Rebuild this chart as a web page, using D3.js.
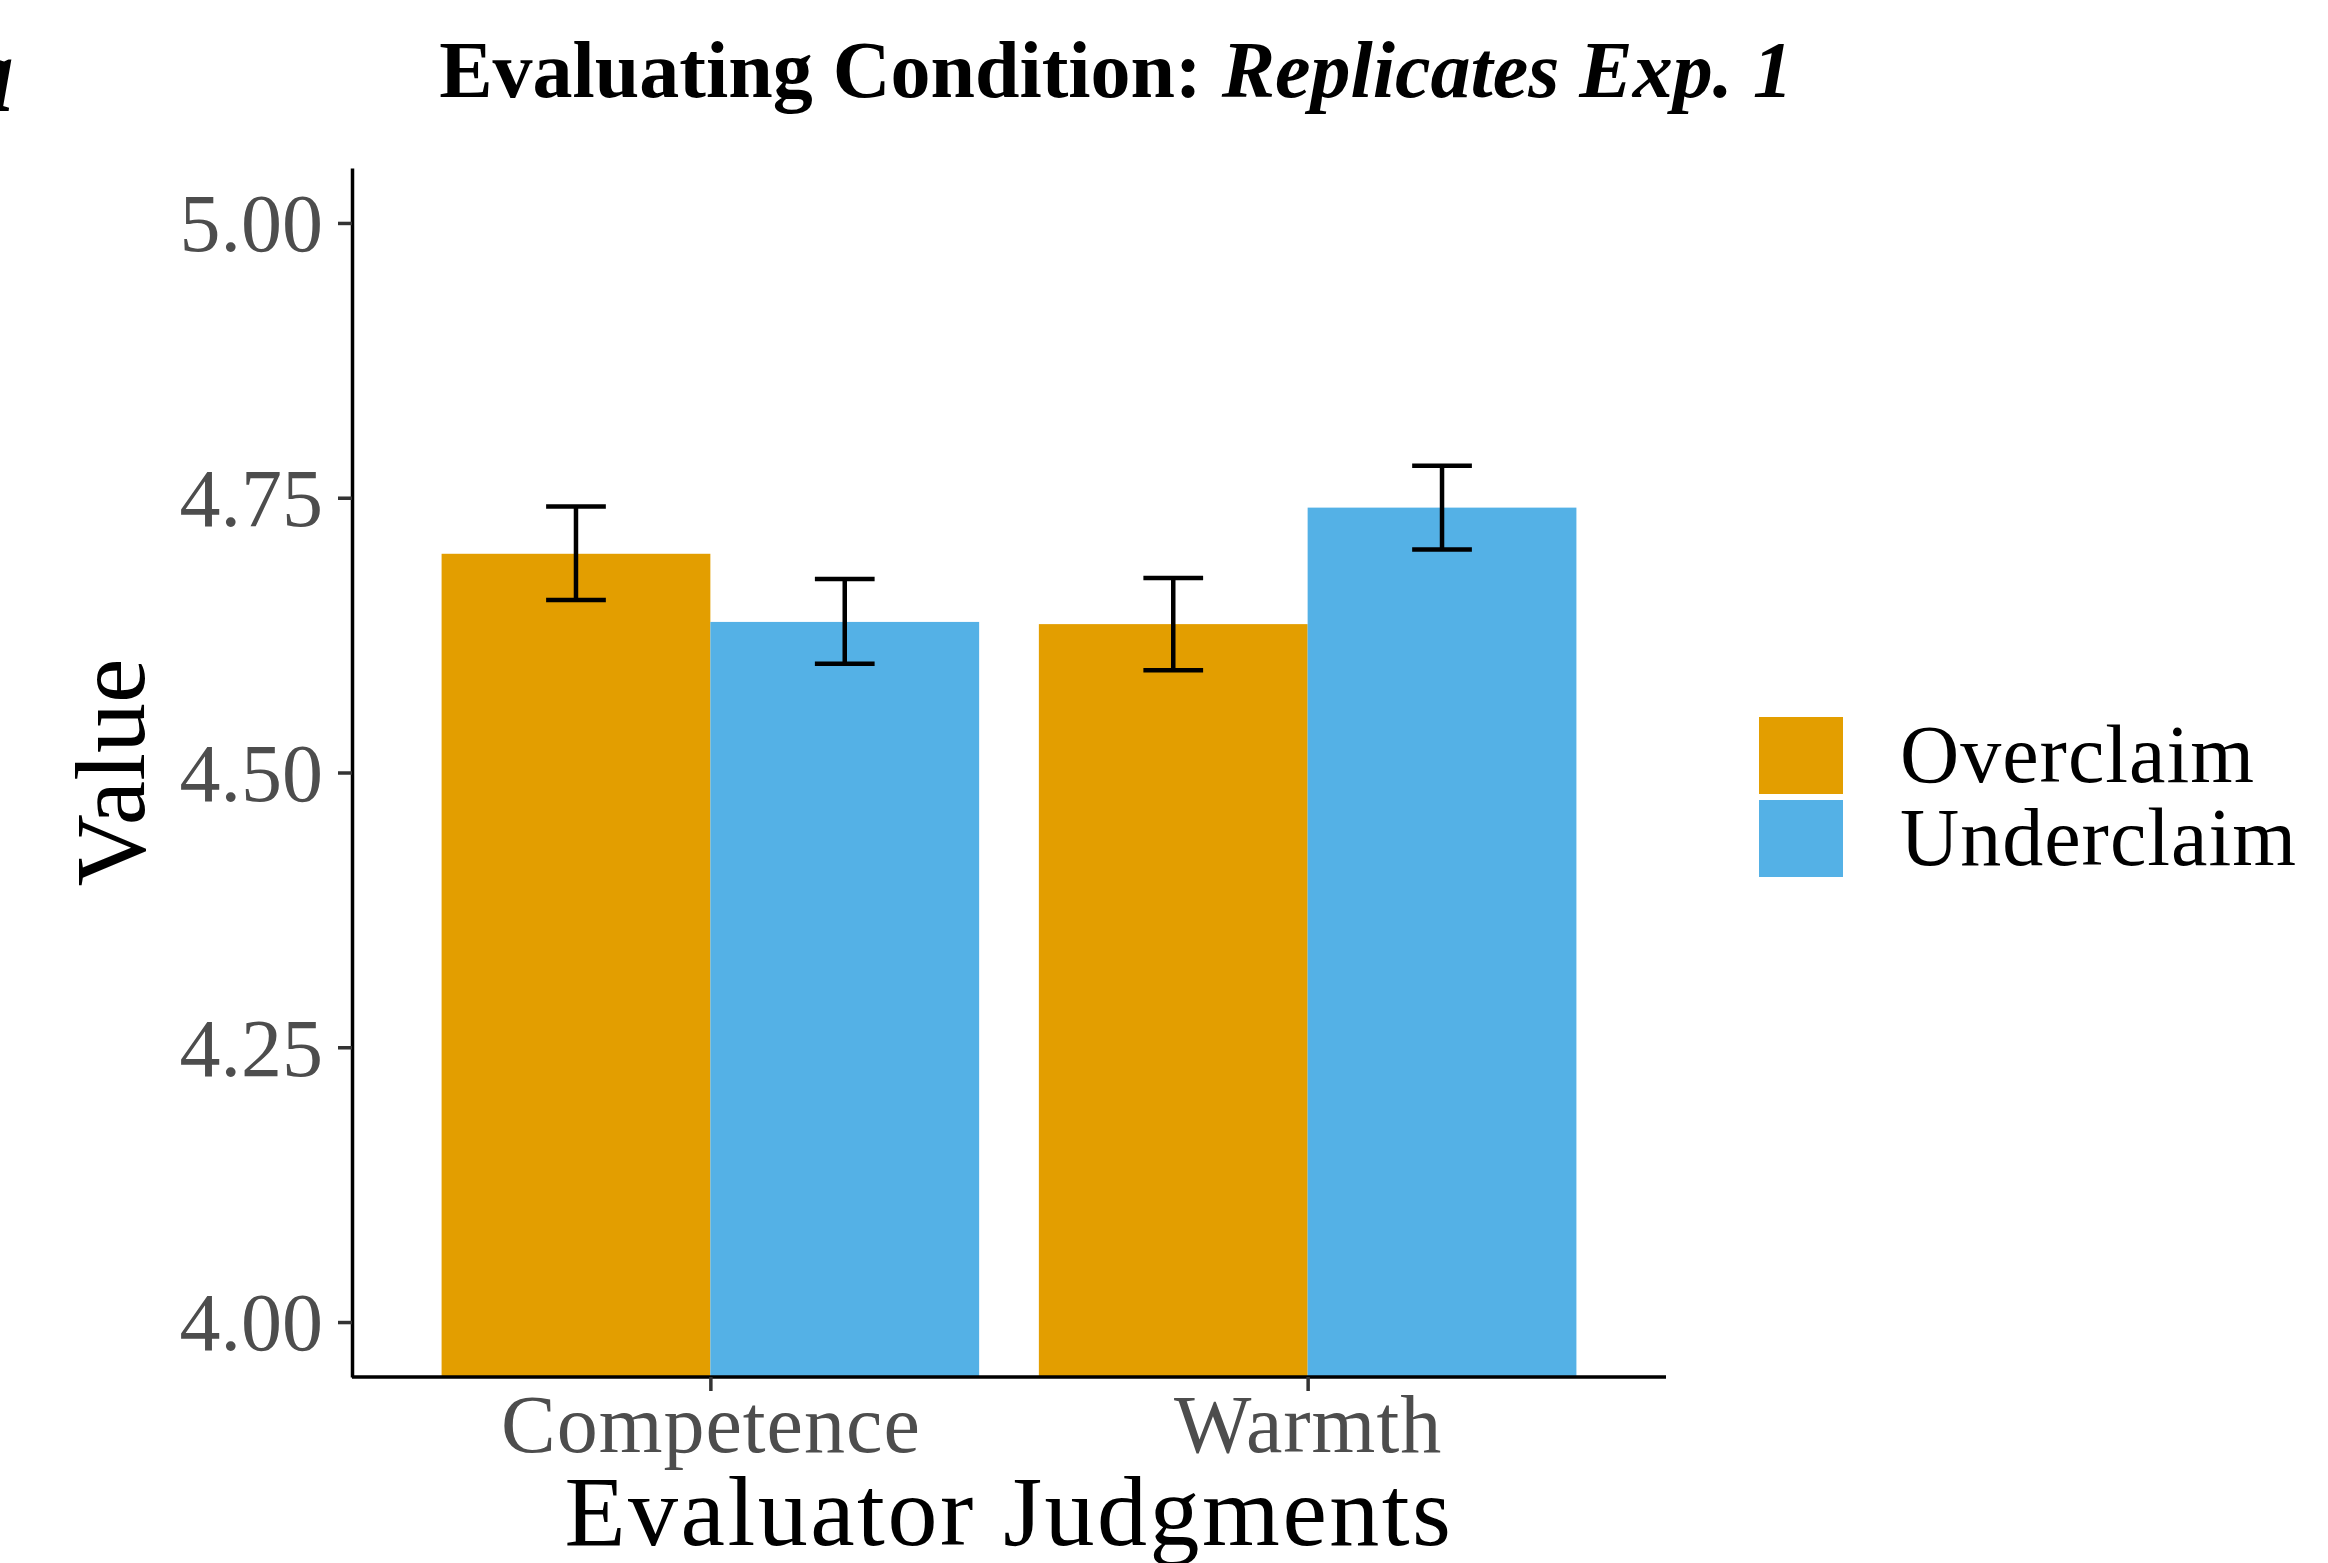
<!DOCTYPE html>
<html>
<head>
<meta charset="utf-8">
<script src="https://cdn.jsdelivr.net/npm/d3@7"></script>
<style>
  body { margin: 0; background: #fff; }
  text { font-family: "Liberation Serif", "Times New Roman", serif; }
</style>
</head>
<body>
<div id="chart"></div>
<script>
// data
const categories = ['Competence', 'Warmth'];
const groups = ['Overclaim', 'Underclaim'];
const means = {
    Overclaim: [4.699, 4.635],
    Underclaim: [4.637, 4.741]
};
const errLow = {
    Overclaim: [4.657, 4.593],
    Underclaim: [4.599, 4.703]
};
const errHigh = {
    Overclaim: [4.742, 4.677],
    Underclaim: [4.676, 4.779]
};
const yTicks = [4.00, 4.25, 4.50, 4.75, 5.00];

const width = 2328, height = 1563;
const panel = { left: 352, right: 1666, top: 168, bottom: 1377 };

const color = d3.scaleOrdinal()
    .domain(groups)
    .range(['#E39E00', '#54B1E6']);

const svg = d3.select('#chart')
    .append('svg')
    .attr('width', width)
    .attr('height', height)
    .style('background', '#fff');

// scales
const x = d3.scalePoint()
    .domain(categories)
    .range([panel.left, panel.right])
    .padding(0.6);

const step = x.step();

const xSub = d3.scaleBand()
    .domain(groups)
    .range([-0.45 * step, 0.45 * step]);

const y = d3.scaleLinear()
    .domain([3.95, 5.05])
    .range([panel.bottom, panel.top]);

// flat records
const rows = [];
categories.forEach((c, i) => {
    groups.forEach(g => {
        rows.push({ cat: c, grp: g, mean: means[g][i], lo: errLow[g][i], hi: errHigh[g][i] });
    });
});

// bars (go down to the bottom of the panel like coord_cartesian)
svg.append('g')
    .selectAll('rect')
    .data(rows)
    .enter()
    .append('rect')
    .attr('x', d => x(d.cat) + xSub(d.grp))
    .attr('width', xSub.bandwidth())
    .attr('y', d => y(d.mean))
    .attr('height', d => panel.bottom - y(d.mean))
    .attr('fill', d => color(d.grp));

// error bars
const capHalf = 0.05 * step;
const eb = svg.append('g')
    .attr('stroke', '#000')
    .attr('stroke-width', 4.5)
    .selectAll('g')
    .data(rows)
    .enter()
    .append('g')
    .attr('transform', d => 'translate(' + (x(d.cat) + xSub(d.grp) + xSub.bandwidth() / 2) + ',0)');

eb.append('line')
    .attr('x1', 0).attr('x2', 0)
    .attr('y1', d => y(d.lo)).attr('y2', d => y(d.hi));
eb.append('line')
    .attr('x1', -capHalf).attr('x2', capHalf)
    .attr('y1', d => y(d.hi)).attr('y2', d => y(d.hi));
eb.append('line')
    .attr('x1', -capHalf).attr('x2', capHalf)
    .attr('y1', d => y(d.lo)).attr('y2', d => y(d.lo));

// axes
const yAxis = d3.axisLeft(y)
    .tickValues(yTicks)
    .tickFormat(d3.format('.2f'))
    .tickSize(14)
    .tickSizeOuter(0)
    .tickPadding(15);

const yAxisG = svg.append('g')
    .attr('transform', 'translate(' + panel.left + ',0)')
    .call(yAxis);

yAxisG.select('.domain').attr('stroke', '#000').attr('stroke-width', 3.5);
yAxisG.selectAll('.tick line').attr('stroke', '#333').attr('stroke-width', 3.5);
yAxisG.selectAll('.tick text')
    .attr('fill', '#4D4D4D')
    .style('font-size', '82px')
    .style('font-family', '"Liberation Serif", serif')
    .attr('dy', '0.34em');

const xAxis = d3.axisBottom(x)
    .tickSize(14)
    .tickSizeOuter(0);

const xAxisG = svg.append('g')
    .attr('transform', 'translate(0,' + panel.bottom + ')')
    .call(xAxis);

xAxisG.select('.domain')
    .attr('d', 'M' + panel.left + ',0H' + panel.right)
    .attr('stroke', '#000').attr('stroke-width', 3.5);
xAxisG.selectAll('.tick line').attr('stroke', '#333').attr('stroke-width', 3.5);
xAxisG.selectAll('.tick text')
    .attr('fill', '#4D4D4D')
    .attr('y', 75)
    .attr('dy', 0)
    .style('font-size', '82px')
    .style('letter-spacing', '1px')
    .style('font-family', '"Liberation Serif", serif');

// axis titles
svg.append('text')
    .attr('x', (panel.left + panel.right) / 2)
    .attr('y', 1545)
    .attr('text-anchor', 'middle')
    .style('font-size', '100px')
    .style('letter-spacing', '2.5px')
    .text('Evaluator Judgments');

svg.append('text')
    .attr('transform', 'translate(144,' + (panel.top + panel.bottom) / 2 + ') rotate(-90)')
    .attr('text-anchor', 'middle')
    .style('font-size', '100px')
    .text('Value');

// title
const title = svg.append('text')
    .attr('x', 1116)
    .attr('y', 97)
    .attr('text-anchor', 'middle')
    .style('font-size', '80px')
    .style('font-weight', 'bold');
title.append('tspan').text('Evaluating Condition: ');
title.append('tspan').style('font-style', 'italic').text('Replicates Exp. 1');

// panel tag, cut off at the left edge
svg.append('text')
    .attr('x', 14)
    .attr('y', 111)
    .attr('text-anchor', 'end')
    .style('font-size', '110px')
    .style('font-weight', 'bold')
    .style('font-style', 'italic')
    .text('a');

// legend
const legend = svg.append('g');
legend.selectAll('rect')
    .data(groups)
    .enter()
    .append('rect')
    .attr('x', 1759)
    .attr('y', (d, i) => 717 + i * 83)
    .attr('width', 84)
    .attr('height', 77)
    .attr('fill', d => color(d));

legend.selectAll('text')
    .data(groups)
    .enter()
    .append('text')
    .attr('x', 1900)
    .attr('y', (d, i) => 782 + i * 83)
    .style('font-size', '82px')
    .style('letter-spacing', '1px')
    .text(d => d);
</script>
</body>
</html>
